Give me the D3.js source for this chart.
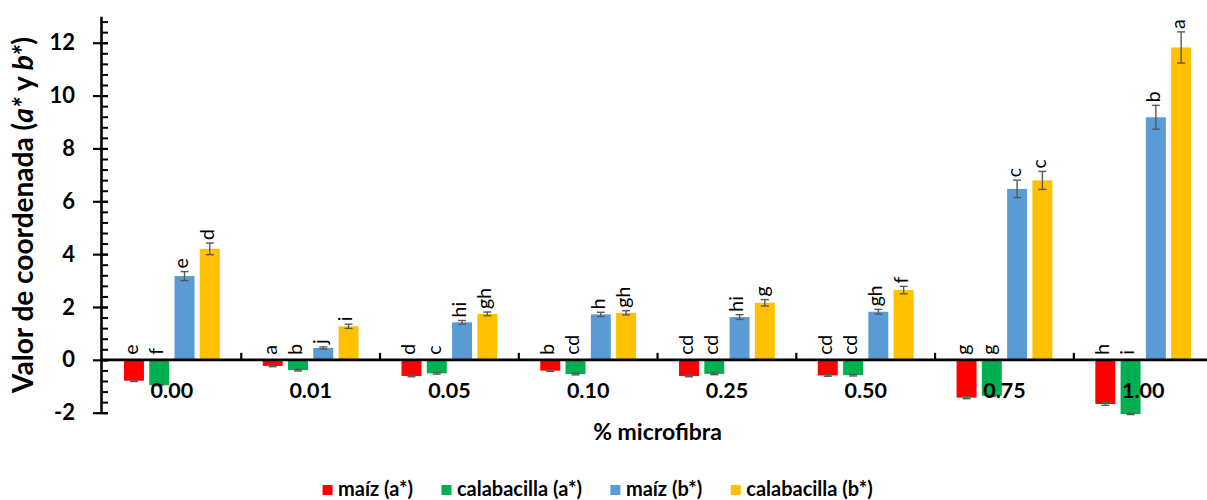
<!DOCTYPE html>
<html>
<head>
<meta charset="utf-8">
<script src="https://cdn.jsdelivr.net/npm/d3@7"></script>
<style>
  html, body { margin: 0; padding: 0; background: #fff; }
  svg { display: block; font-family: Lato, "Open Sans", sans-serif; }
</style>
</head>
<body>
<svg id="chart" width="1207" height="500"></svg>
<script>
// % microfibra levels
const categories = ["0.00", "0.01", "0.05", "0.10", "0.25", "0.50", "0.75", "1.00"];

// Coordinate values (a* and b*) per sample
const maizA  = [-0.79, -0.23, -0.61, -0.41, -0.61, -0.59, -1.43, -1.67];
const calabA = [-0.96, -0.39, -0.51, -0.54, -0.53, -0.58, -1.36, -2.05];
const maizB  = [3.17, 0.45, 1.42, 1.72, 1.62, 1.82, 6.47, 9.18];
const calabB = [4.20, 1.27, 1.74, 1.78, 2.16, 2.64, 6.79, 11.82];

// Standard deviations
const maizAErr  = [0.03, 0.03, 0.03, 0.03, 0.03, 0.03, 0.04, 0.05];
const calabAErr = [0.02, 0.03, 0.03, 0.03, 0.03, 0.03, 0.03, 0.02];
const maizBErr  = [0.17, 0.04, 0.07, 0.08, 0.09, 0.09, 0.33, 0.45];
const calabBErr = [0.22, 0.08, 0.07, 0.08, 0.12, 0.14, 0.34, 0.59];

// Significance letters
const maizALetters  = ["e", "a", "d", "b", "cd", "cd", "g", "h"];
const calabALetters = ["f", "b", "c", "cd", "cd", "cd", "g", "i"];
const maizBLetters  = ["e", "j", "hi", "h", "hi", "gh", "c", "b"];
const calabBLetters = ["d", "i", "gh", "gh", "g", "f", "c", "a"];

const seriesNames  = ["maíz (a*)", "calabacilla (a*)", "maíz (b*)", "calabacilla (b*)"];
const seriesColors = ["#FF0000", "#00B050", "#5B9BD5", "#FFC000"];

const yMajorTicks = [-2, 0, 2, 4, 6, 8, 10, 12];

const series = [
  { name: seriesNames[0], color: seriesColors[0], values: maizA,  errors: maizAErr,  letters: maizALetters },
  { name: seriesNames[1], color: seriesColors[1], values: calabA, errors: calabAErr, letters: calabALetters },
  { name: seriesNames[2], color: seriesColors[2], values: maizB,  errors: maizBErr,  letters: maizBLetters },
  { name: seriesNames[3], color: seriesColors[3], values: calabB, errors: calabBErr, letters: calabBLetters }
];

const svg = d3.select("#chart");

const axisX = 101;
const y = d3.scaleLinear().domain([-2, 13]).range([412.7, 16.3]);
const x0 = d3.scaleBand().domain(categories).range([102.5, 1212.6]);
const x1 = d3.scaleBand().domain(seriesNames).range([0, x0.bandwidth()])
  .paddingInner(0.21).paddingOuter(0.85);

// Bars
const groups = svg.append("g").selectAll("g")
  .data(categories)
  .join("g")
  .attr("transform", c => `translate(${x0(c)},0)`);

const rows = categories.map((c, i) => series.map(s => ({
  cat: c, name: s.name, color: s.color,
  value: s.values[i], err: s.errors[i], letter: s.letters[i]
})));

groups.each(function (c, i) {
  const g = d3.select(this);
  const d = rows[i];

  g.selectAll("rect")
    .data(d)
    .join("rect")
    .attr("x", r => x1(r.name))
    .attr("width", x1.bandwidth())
    .attr("y", r => y(Math.max(0, r.value)))
    .attr("height", r => Math.abs(y(r.value) - y(0)))
    .attr("fill", r => r.color);

  // error bars
  const eb = g.selectAll("g.err")
    .data(d)
    .join("g")
    .attr("class", "err")
    .attr("stroke", "#595959")
    .attr("stroke-width", 1.4)
    .attr("fill", "none");
  const cx = r => x1(r.name) + x1.bandwidth() / 2;
  eb.append("line")
    .attr("x1", cx).attr("x2", cx)
    .attr("y1", r => y(r.value + r.err)).attr("y2", r => y(r.value - r.err));
  eb.append("line")
    .attr("x1", r => cx(r) - 4).attr("x2", r => cx(r) + 4)
    .attr("y1", r => y(r.value + r.err)).attr("y2", r => y(r.value + r.err));
  eb.append("line")
    .attr("x1", r => cx(r) - 4).attr("x2", r => cx(r) + 4)
    .attr("y1", r => y(r.value - r.err)).attr("y2", r => y(r.value - r.err));

  // significance letters
  g.selectAll("text.letter")
    .data(d)
    .join("text")
    .attr("class", "letter")
    .attr("transform", r => {
      const py = r.value >= 0 ? y(r.value + r.err) - 3 : y(0) - 5;
      return `translate(${cx(r)},${py}) rotate(-90)`;
    })
    .attr("dy", "0.2em")
    .attr("text-anchor", "start")
    .attr("font-size", 19.5)
    .attr("fill", "#000")
    .text(r => r.letter);
});

// Y axis: major ticks crossing, minor ticks inside
const minorTicks = d3.range(-2, 13.001, 0.4).map(v => +v.toFixed(1));
svg.append("g")
  .attr("transform", `translate(${axisX},0)`)
  .call(d3.axisRight(y).tickValues(minorTicks).tickSize(7).tickFormat(""))
  .call(g => g.select(".domain").remove())
  .call(g => g.selectAll(".tick line").attr("stroke", "#000").attr("stroke-width", 2));

svg.append("g")
  .attr("transform", `translate(${axisX},0)`)
  .call(d3.axisLeft(y).tickValues(yMajorTicks).tickSize(8).tickSizeOuter(0).tickPadding(18)
    .tickFormat(v => String(v)))
  .call(g => g.select(".domain").attr("stroke", "#000").attr("stroke-width", 2.6))
  .call(g => g.selectAll(".tick line").attr("stroke", "#000").attr("stroke-width", 2.2))
  .call(g => g.selectAll(".tick text")
    .attr("font-family", "Lato, sans-serif")
    .attr("font-size", 22).attr("font-weight", "bold").attr("fill", "#000"));

// inside part of major ticks
svg.append("g")
  .attr("transform", `translate(${axisX},0)`)
  .call(d3.axisRight(y).tickValues(yMajorTicks).tickSize(7).tickFormat(""))
  .call(g => g.select(".domain").remove())
  .call(g => g.selectAll(".tick line").attr("stroke", "#000").attr("stroke-width", 2.2));

// X axis along zero
const xAxis = svg.append("g");
xAxis.append("line")
  .attr("x1", axisX).attr("x2", 1207)
  .attr("y1", y(0)).attr("y2", y(0))
  .attr("stroke", "#000").attr("stroke-width", 2.6);
xAxis.selectAll("line.tick")
  .data(categories.slice(1))
  .join("line")
  .attr("class", "tick")
  .attr("x1", c => x0(c)).attr("x2", c => x0(c))
  .attr("y1", y(0)).attr("y2", y(0) - 7)
  .attr("stroke", "#000").attr("stroke-width", 2.2);
xAxis.selectAll("text")
  .data(categories)
  .join("text")
  .attr("x", c => x0(c) + x0.bandwidth() / 2)
  .attr("y", 398)
  .attr("text-anchor", "middle")
  .attr("font-size", 21.5)
  .attr("font-weight", "bold")
  .attr("fill", "#000")
  .text(c => c);

// Axis titles
svg.append("text")
  .attr("x", (102.5 + 1212.6) / 2)
  .attr("y", 440)
  .attr("text-anchor", "middle")
  .attr("font-size", 23)
  .attr("font-weight", "bold")
  .attr("fill", "#000")
  .text("% microfibra");

const yTitle = svg.append("text")
  .attr("transform", "translate(33,215) rotate(-90)")
  .attr("text-anchor", "middle")
  .attr("font-size", 25)
  .attr("font-weight", "bold")
  .attr("fill", "#000");
yTitle.append("tspan").text("Valor de coordenada (");
yTitle.append("tspan").attr("font-style", "italic").text("a*");
yTitle.append("tspan").text(" y ");
yTitle.append("tspan").attr("font-style", "italic").text("b*");
yTitle.append("tspan").text(")");
// fit the title to span the axis height
const titleLen = yTitle.node().getComputedTextLength();
yTitle.attr("font-size", 25 * 356 / titleLen);

// Legend
const legend = svg.append("g");
const items = legend.selectAll("g")
  .data(series)
  .join("g");
items.append("rect")
  .attr("width", 10).attr("height", 10)
  .attr("y", 485)
  .attr("fill", d => d.color);
items.append("text")
  .attr("x", 15.5)
  .attr("y", 496)
  .attr("font-size", 20)
  .attr("font-weight", "bold")
  .attr("fill", "#000")
  .text(d => d.name);
let xpos = 0;
items.each(function () {
  const it = d3.select(this);
  it.attr("transform", `translate(${xpos},0)`);
  const w = it.select("text").node().getComputedTextLength();
  xpos += 15.5 + w + 28.5;
});
const legendWidth = xpos - 28.5;
legend.attr("transform", `translate(${597.6 - legendWidth / 2},0)`);
</script>
</body>
</html>
